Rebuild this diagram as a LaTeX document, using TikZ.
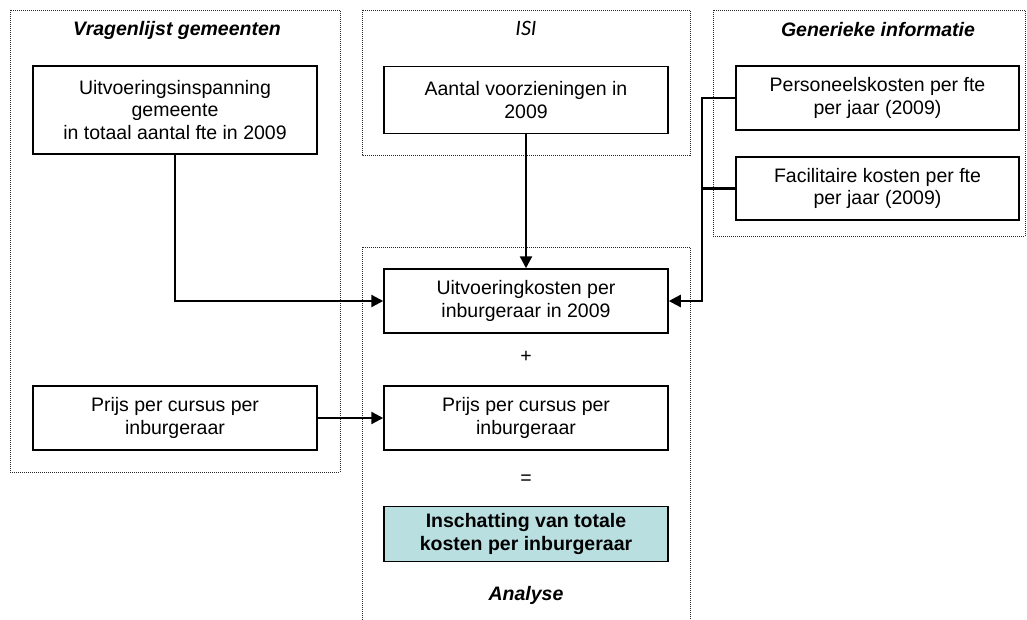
\documentclass[tikz,border=0pt]{standalone}
\usepackage{fontspec}
\setmainfont{Liberation Sans}
\newfontfamily\carlito{Carlito}
\usetikzlibrary{arrows.meta}
\definecolor{resfill}{HTML}{B9DFE1}
\begin{document}
\begin{tikzpicture}[x=1pt,y=-1pt,
  grp/.style={draw=black!85, line width=1pt, dash pattern=on 1pt off 1pt},
  box/.style={draw, line width=1.5pt, minimum width=284pt, align=center, inner sep=0pt, font=\fontsize{19.5}{22.5}\selectfont},
  conn/.style={line width=2.4pt, -{Triangle[length=12pt,width=12pt]}},
  line/.style={line width=2.4pt},
  ttl/.style={font=\fontsize{19.5}{22}\selectfont\bfseries\itshape},
  op/.style={font=\fontsize{19.5}{22}\selectfont}
]
\useasboundingbox (0,0) rectangle (1027,619);
% groups
\draw[grp] (10,10) rectangle (340,472);
\draw[grp] (362,10) rectangle (690,155);
\draw[grp] (362,247) rectangle (690,625);
\draw[grp] (713,10) rectangle (1025,236);
\node[ttl] (tV) at (177,30) {Vragenlijst gemeenten};
\node[font=\fontsize{22}{24}\selectfont\carlito\itshape] (tI) at (526,28) {ISI};
\node[ttl] (tG) at (878,30) {Generieke informatie};
\node[ttl] (tA) at (526,595) {Analyse};
% boxes
\node[box, minimum height=88pt] (uit) at (175,110) {Uitvoeringsinspanning\\gemeente\\in totaal aantal fte in 2009};
\node[box, minimum height=64pt] (prL) at (175,418) {Prijs per cursus per\\inburgeraar};
\node[box, minimum height=67pt] (aan) at (526,100) {Aantal voorzieningen in\\2009};
\node[box, minimum height=64pt] (uk) at (526,301) {Uitvoeringkosten per\\inburgeraar in 2009};
\node[box, minimum height=64pt] (prR) at (526,418) {Prijs per cursus per\\inburgeraar};
\node[box, minimum height=55pt, fill=resfill, font=\fontsize{19.5}{22.5}\selectfont\bfseries] (tot) at (526,534) {Inschatting van totale\\kosten per inburgeraar};
\node[box, minimum width=283pt, minimum height=64pt] (pers) at (877.5,98) {Personeelskosten per fte\\per jaar (2009)};
\node[box, minimum width=283pt, minimum height=63pt] (fac) at (877.5,188.5) {Facilitaire kosten per fte\\per jaar (2009)};
\node[op] (plus) at (526,357) {+};
\node[op] (eq) at (526,480) {=};
% connectors
\coordinate (j) at (702,301);
\draw[conn] (uit.south) |- (uk.west);
\draw[conn] (aan.south) -- (uk.north);
\draw[conn] (prL.east) -- (prR.west);
\draw[conn] (pers.west) -| (j) -- (uk.east);
\draw[line] (fac.west) -- (fac.west -| j);
\end{tikzpicture}
\end{document}
